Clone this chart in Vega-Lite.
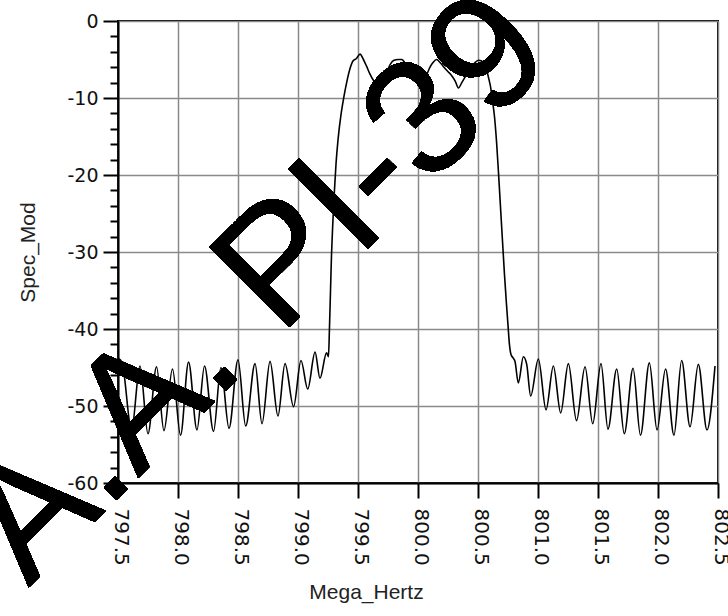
{
  "$schema": "https://vega.github.io/schema/vega-lite/v6.json",
  "width": 600,
  "height": 462,
  "autosize": "none",
  "padding": {"left": 118, "top": 21, "right": 10, "bottom": 133},
  "background": "white",
  "config": {
    "view": {"stroke": "black", "strokeWidth": 2},
    "axis": {
      "domainColor": "#000",
      "domainWidth": 2,
      "tickColor": "#000",
      "tickWidth": 2,
      "gridColor": "#8a8a8a",
      "gridWidth": 1.5,
      "labelColor": "#111",
      "labelFont": "DejaVu Sans",
      "labelFontSize": 19,
      "titleFont": "Liberation Sans",
      "titleFontSize": 21,
      "titleFontWeight": "normal",
      "titleColor": "#222"
    }
  },
  "resolve": {"axis": {"x": "independent", "y": "independent"}},
  "data": {
    "values": [
      {"mhz": 797.500, "spec": -43.8}, {"mhz": 797.533, "spec": -44.3}, {"mhz": 797.613, "spec": -53.1},
      {"mhz": 797.683, "spec": -44.8}, {"mhz": 797.750, "spec": -53.6}, {"mhz": 797.821, "spec": -44.9},
      {"mhz": 797.883, "spec": -53.2}, {"mhz": 797.954, "spec": -45.2}, {"mhz": 798.021, "spec": -53.8},
      {"mhz": 798.088, "spec": -44.3}, {"mhz": 798.158, "spec": -53.1}, {"mhz": 798.221, "spec": -44.8},
      {"mhz": 798.296, "spec": -53.3}, {"mhz": 798.358, "spec": -45.0}, {"mhz": 798.425, "spec": -52.9},
      {"mhz": 798.500, "spec": -44.0}, {"mhz": 798.564, "spec": -52.6}, {"mhz": 798.642, "spec": -44.5},
      {"mhz": 798.700, "spec": -52.3}, {"mhz": 798.767, "spec": -44.2}, {"mhz": 798.833, "spec": -51.3},
      {"mhz": 798.892, "spec": -44.5}, {"mhz": 798.963, "spec": -50.1}, {"mhz": 799.025, "spec": -44.1},
      {"mhz": 799.081, "spec": -47.8}, {"mhz": 799.142, "spec": -43.0}, {"mhz": 799.183, "spec": -46.4},
      {"mhz": 799.238, "spec": -43.1}, {"mhz": 799.254, "spec": -43.6}, {"mhz": 799.262, "spec": -40.0},
      {"mhz": 799.271, "spec": -35.0}, {"mhz": 799.279, "spec": -30.5}, {"mhz": 799.288, "spec": -27.0},
      {"mhz": 799.300, "spec": -23.0}, {"mhz": 799.317, "spec": -18.5}, {"mhz": 799.333, "spec": -15.5},
      {"mhz": 799.358, "spec": -12.2}, {"mhz": 799.383, "spec": -9.8}, {"mhz": 799.408, "spec": -7.8},
      {"mhz": 799.433, "spec": -6.2}, {"mhz": 799.458, "spec": -5.2}, {"mhz": 799.485, "spec": -4.9},
      {"mhz": 799.517, "spec": -4.3}, {"mhz": 799.545, "spec": -5.0}, {"mhz": 799.572, "spec": -5.9},
      {"mhz": 799.600, "spec": -6.9}, {"mhz": 799.628, "spec": -7.7}, {"mhz": 799.672, "spec": -8.2},
      {"mhz": 799.700, "spec": -7.6}, {"mhz": 799.739, "spec": -6.6}, {"mhz": 799.770, "spec": -5.6},
      {"mhz": 799.800, "spec": -5.1}, {"mhz": 799.835, "spec": -5.0}, {"mhz": 799.865, "spec": -5.0},
      {"mhz": 799.885, "spec": -5.3}, {"mhz": 799.919, "spec": -6.4}, {"mhz": 799.950, "spec": -7.0},
      {"mhz": 799.975, "spec": -7.4}, {"mhz": 800.005, "spec": -7.9}, {"mhz": 800.037, "spec": -8.2},
      {"mhz": 800.072, "spec": -7.0}, {"mhz": 800.100, "spec": -6.0}, {"mhz": 800.125, "spec": -5.4},
      {"mhz": 800.155, "spec": -5.0}, {"mhz": 800.185, "spec": -5.4}, {"mhz": 800.211, "spec": -5.9},
      {"mhz": 800.245, "spec": -6.5}, {"mhz": 800.281, "spec": -7.1}, {"mhz": 800.310, "spec": -7.8},
      {"mhz": 800.337, "spec": -8.7}, {"mhz": 800.365, "spec": -8.0}, {"mhz": 800.392, "spec": -7.3},
      {"mhz": 800.420, "spec": -6.6}, {"mhz": 800.447, "spec": -6.0}, {"mhz": 800.475, "spec": -5.4},
      {"mhz": 800.504, "spec": -5.1}, {"mhz": 800.530, "spec": -5.2}, {"mhz": 800.550, "spec": -5.6},
      {"mhz": 800.572, "spec": -6.4}, {"mhz": 800.590, "spec": -7.5}, {"mhz": 800.604, "spec": -8.5},
      {"mhz": 800.620, "spec": -10.3}, {"mhz": 800.638, "spec": -12.5}, {"mhz": 800.655, "spec": -15.8},
      {"mhz": 800.670, "spec": -19.5}, {"mhz": 800.688, "spec": -24.3}, {"mhz": 800.705, "spec": -28.8},
      {"mhz": 800.721, "spec": -33.0}, {"mhz": 800.736, "spec": -36.5}, {"mhz": 800.750, "spec": -39.5},
      {"mhz": 800.762, "spec": -42.0}, {"mhz": 800.775, "spec": -43.3}, {"mhz": 800.795, "spec": -43.8},
      {"mhz": 800.808, "spec": -44.2}, {"mhz": 800.836, "spec": -47.0}, {"mhz": 800.878, "spec": -43.6},
      {"mhz": 800.906, "spec": -44.6}, {"mhz": 800.939, "spec": -48.7}, {"mhz": 801.003, "spec": -43.9},
      {"mhz": 801.067, "spec": -50.5}, {"mhz": 801.128, "spec": -44.8}, {"mhz": 801.189, "spec": -50.9},
      {"mhz": 801.253, "spec": -44.5}, {"mhz": 801.321, "spec": -51.9}, {"mhz": 801.392, "spec": -44.9},
      {"mhz": 801.456, "spec": -52.3}, {"mhz": 801.525, "spec": -44.5}, {"mhz": 801.583, "spec": -53.0},
      {"mhz": 801.656, "spec": -45.2}, {"mhz": 801.719, "spec": -53.6}, {"mhz": 801.792, "spec": -45.1},
      {"mhz": 801.854, "spec": -53.8}, {"mhz": 801.928, "spec": -44.4}, {"mhz": 801.992, "spec": -53.1},
      {"mhz": 802.063, "spec": -45.2}, {"mhz": 802.133, "spec": -53.8}, {"mhz": 802.197, "spec": -44.1},
      {"mhz": 802.267, "spec": -52.7}, {"mhz": 802.336, "spec": -44.6}, {"mhz": 802.408, "spec": -53.1},
      {"mhz": 802.475, "spec": -44.8}
    ]
  },
  "layer": [
    {
      "mark": {"type": "line", "color": "#000", "strokeWidth": 1.6, "interpolate": "monotone"},
      "encoding": {
        "x": {
          "field": "mhz",
          "type": "quantitative",
          "scale": {"domain": [797.5, 802.5], "nice": false, "zero": false},
          "axis": {
            "values": [797.5, 798.0, 798.5, 799.0, 799.5, 800.0, 800.5, 801.0, 801.5, 802.0, 802.5],
            "format": ".1f",
            "labelAngle": 90,
            "labelAlign": "left",
            "labelBaseline": "middle",
            "labelPadding": 10,
            "labelOffset": 2,
            "labelFontSize": 20,
            "labelFlush": false,
            "labelOverlap": false,
            "tickSize": 15,
            "grid": true,
            "title": "Mega_Hertz",
            "titlePadding": 16,
            "titleX": 248
          }
        },
        "y": {
          "field": "spec",
          "type": "quantitative",
          "scale": {"domain": [-60, 0], "nice": false, "zero": false},
          "axis": {
            "orient": "left",
            "values": [-60, -58, -56, -54, -52, -50, -48, -46, -44, -42, -40, -38, -36, -34, -32, -30, -28, -26, -24, -22, -20, -18, -16, -14, -12, -10, -8, -6, -4, -2, 0],
            "labelExpr": "datum.value % 10 === 0 ? '' + datum.value : ''",
            "tickSize": {"condition": {"test": "datum.value % 10 === 0", "value": 15}, "value": 8},
            "gridOpacity": {"condition": {"test": "datum.value % 10 === 0", "value": 1}, "value": 0},
            "grid": true,
            "labelPadding": 5,
            "labelOverlap": false,
            "labelFlush": false,
            "title": "Spec_Mod",
            "titlePadding": 28
          }
        }
      }
    },
    {
      "mark": {
        "type": "text",
        "text": "A.A. PI-39",
        "angle": -45,
        "font": "Liberation Sans",
        "fontSize": 164,
        "color": "#000",
        "opacity": 0.5,
        "align": "center",
        "baseline": "middle"
      },
      "encoding": {
        "x": {"datum": 798.667, "type": "quantitative", "axis": null},
        "y": {"datum": -34.8, "type": "quantitative", "axis": null}
      }
    }
  ]
}
